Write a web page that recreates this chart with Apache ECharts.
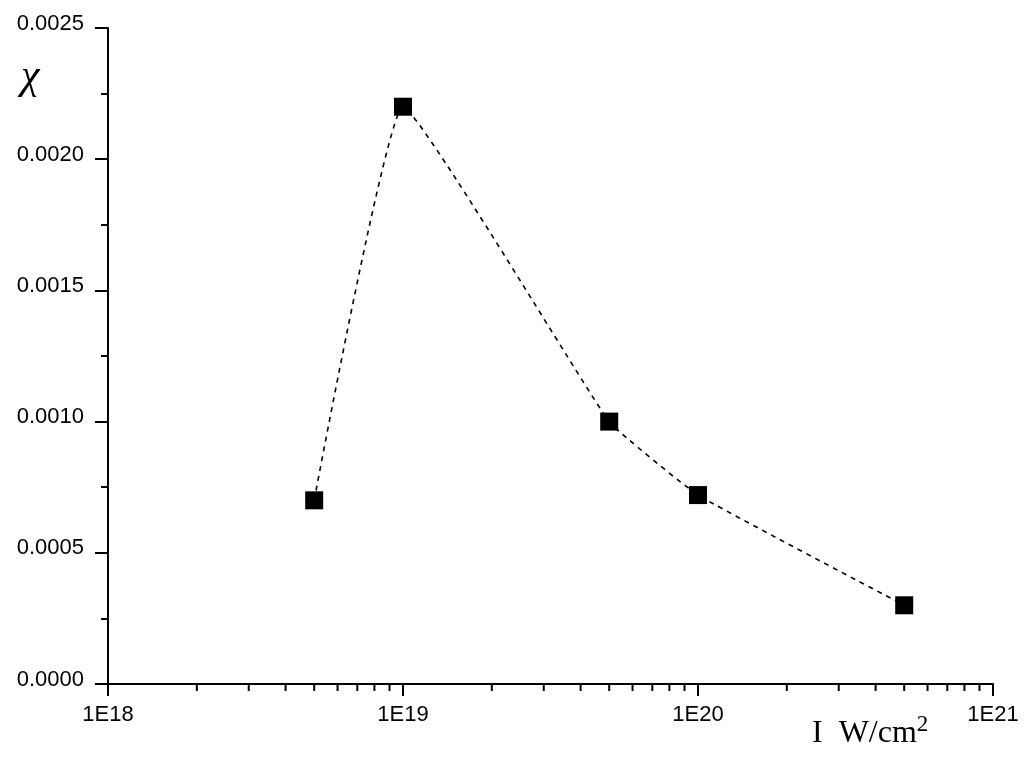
<!DOCTYPE html>
<html>
<head>
<meta charset="utf-8">
<script src="https://cdn.jsdelivr.net/npm/echarts@6/dist/echarts.min.js"></script>
<style>
  html, body { margin: 0; padding: 0; background: #fff; }
  #chart { width: 1024px; height: 759px; }
</style>
</head>
<body>
<div id="chart"></div>
<script>
// intensity (W/cm^2) and chi values
var intensity = [5e18, 1e19, 5e19, 1e20, 5e20];
var chiValues = [0.0007, 0.0022, 0.0010, 0.00072, 0.0003];
var minorTickValues = [];
var decades = [1e18, 1e19, 1e20];
for (var d = 0; d < decades.length; d++) {
    for (var m = 2; m <= 9; m++) {
        minorTickValues.push(m * decades[d]);
    }
}

var chart = echarts.init(document.getElementById('chart'), null, { renderer: 'canvas' });

var labelFont = { color: '#000', fontFamily: 'Liberation Sans, Arial, sans-serif', fontSize: 22 };

var option = {
    animation: false,
    backgroundColor: '#fff',
    grid: { left: 108, right: 31, top: 28, bottom: 75 },
    xAxis: {
        type: 'log',
        logBase: 10,
        min: 1e18,
        max: 1e21,
        axisLine: { onZero: false, lineStyle: { color: '#000', width: 2 } },
        axisTick: { length: 12, lineStyle: { color: '#000', width: 2 } },
        splitLine: { show: false },
        axisLabel: Object.assign({
            margin: 20,
            formatter: function (v) { return '1E' + Math.round(Math.log10(v)); }
        }, labelFont)
    },
    yAxis: {
        type: 'value',
        min: 0,
        max: 0.0025,
        interval: 0.0005,
        axisLine: { show: true, lineStyle: { color: '#000', width: 2 } },
        axisTick: { show: true, length: 13, lineStyle: { color: '#000', width: 2 } },
        minorTick: { show: true, splitNumber: 2, length: 7, lineStyle: { color: '#000', width: 2 } },
        splitLine: { show: false },
        axisLabel: Object.assign({
            margin: 24,
            verticalAlign: 'bottom',
            lineHeight: 9,
            formatter: function (v) { return v.toFixed(4); }
        }, labelFont)
    },
    graphic: [
        {
            type: 'text', left: 21, top: 56,
            style: { text: 'χ', font: 'italic 42px "Liberation Serif", "DejaVu Serif", serif', fill: '#000' }
        },
        {
            type: 'text', left: 812, top: 713,
            style: {
                text: '{a|I  W/cm}{s|2}',
                rich: {
                    a: { font: '32px "Liberation Serif", serif', fill: '#000', verticalAlign: 'bottom' },
                    s: { font: '23px "Liberation Serif", serif', fill: '#000', verticalAlign: 'top', padding: [0, 0, 14, 0] }
                }
            }
        }
    ],
    series: [
        {
            type: 'line',
            data: intensity.map(function (x, i) { return [x, chiValues[i]]; }),
            smooth: 0.1,
            symbol: 'rect',
            symbolSize: 18,
            itemStyle: { color: '#000' },
            lineStyle: { color: '#000', width: 1.6, type: [5, 5] }
        },
        {
            // minor ticks of the log axis, placed through the axis scale
            type: 'custom',
            silent: true,
            clip: false,
            data: minorTickValues.map(function (v) { return [v, 0]; }),
            renderItem: function (params, api) {
                var p = api.coord([api.value(0), 0]);
                return {
                    type: 'line',
                    shape: { x1: p[0], y1: p[1], x2: p[0], y2: p[1] + 7 },
                    style: { stroke: '#000', lineWidth: 2 }
                };
            }
        }
    ]
};

chart.setOption(option);
</script>
</body>
</html>
